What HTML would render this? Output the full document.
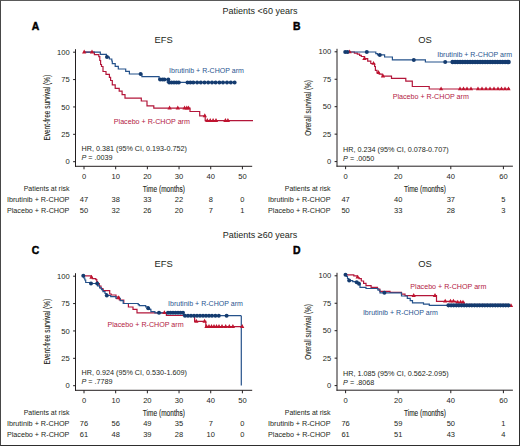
<!DOCTYPE html>
<html><head><meta charset="utf-8"><style>
html,body{margin:0;padding:0;background:#fff;}
svg{display:block;font-family:"Liberation Sans", sans-serif;}
.frame{position:absolute;left:0;top:0;width:520px;height:446px;box-sizing:border-box;border-style:solid;border-width:1px 1.5px 1.5px 1.3px;border-color:#5a5a5a #2e2e2e #2e2e2e #484848;pointer-events:none;}
</style></head><body>
<svg width="520" height="446" viewBox="0 0 520 446">
<rect width="520" height="446" fill="#fff"/>
<text x="260" y="14.4" text-anchor="middle" fill="#231f20" style="font-size:9px;" >Patients &lt;60 years</text>
<text x="260" y="238.3" text-anchor="middle" fill="#231f20" style="font-size:9px;" >Patients ≥60 years</text>
<text x="31.8" y="29.6" text-anchor="start" fill="#000" style="font-size:10.4px;font-weight:bold;" stroke="#000" stroke-width="0.45">A</text>
<text x="292.9" y="29.7" text-anchor="start" fill="#000" style="font-size:10.4px;font-weight:bold;" stroke="#000" stroke-width="0.45">B</text>
<text x="31.8" y="253.7" text-anchor="start" fill="#000" style="font-size:10.4px;font-weight:bold;" stroke="#000" stroke-width="0.45">C</text>
<text x="292.9" y="253.6" text-anchor="start" fill="#000" style="font-size:10.4px;font-weight:bold;" stroke="#000" stroke-width="0.45">D</text>
<line x1="75.5" y1="49.2" x2="75.5" y2="166.8" stroke="#231f20" stroke-width="1"/>
<line x1="75.0" y1="166.3" x2="252.2" y2="166.3" stroke="#231f20" stroke-width="1"/>
<line x1="73.1" y1="52.2" x2="75.5" y2="52.2" stroke="#231f20" stroke-width="1"/>
<text x="69.7" y="54.8" text-anchor="end" fill="#231f20" style="font-size:7.6px;" >100</text>
<line x1="73.1" y1="79.575" x2="75.5" y2="79.575" stroke="#231f20" stroke-width="1"/>
<text x="69.7" y="82.17" text-anchor="end" fill="#231f20" style="font-size:7.6px;" >75</text>
<line x1="73.1" y1="106.94999999999999" x2="75.5" y2="106.94999999999999" stroke="#231f20" stroke-width="1"/>
<text x="69.7" y="109.55" text-anchor="end" fill="#231f20" style="font-size:7.6px;" >50</text>
<line x1="73.1" y1="134.325" x2="75.5" y2="134.325" stroke="#231f20" stroke-width="1"/>
<text x="69.7" y="136.92" text-anchor="end" fill="#231f20" style="font-size:7.6px;" >25</text>
<line x1="73.1" y1="161.7" x2="75.5" y2="161.7" stroke="#231f20" stroke-width="1"/>
<text x="69.7" y="164.3" text-anchor="end" fill="#231f20" style="font-size:7.6px;" >0</text>
<line x1="84.0" y1="166.3" x2="84.0" y2="169.3" stroke="#231f20" stroke-width="1"/>
<text x="84.0" y="179.20000000000002" text-anchor="middle" fill="#231f20" style="font-size:7.6px;" >0</text>
<text x="84.0" y="201.8" text-anchor="middle" fill="#231f20" style="font-size:7.5px;" >47</text>
<text x="84.0" y="213.3" text-anchor="middle" fill="#231f20" style="font-size:7.5px;" >50</text>
<line x1="115.68" y1="166.3" x2="115.68" y2="169.3" stroke="#231f20" stroke-width="1"/>
<text x="115.68" y="179.20000000000002" text-anchor="middle" fill="#231f20" style="font-size:7.6px;" >10</text>
<text x="115.68" y="201.8" text-anchor="middle" fill="#231f20" style="font-size:7.5px;" >38</text>
<text x="115.68" y="213.3" text-anchor="middle" fill="#231f20" style="font-size:7.5px;" >32</text>
<line x1="147.36" y1="166.3" x2="147.36" y2="169.3" stroke="#231f20" stroke-width="1"/>
<text x="147.36" y="179.20000000000002" text-anchor="middle" fill="#231f20" style="font-size:7.6px;" >20</text>
<text x="147.36" y="201.8" text-anchor="middle" fill="#231f20" style="font-size:7.5px;" >33</text>
<text x="147.36" y="213.3" text-anchor="middle" fill="#231f20" style="font-size:7.5px;" >26</text>
<line x1="179.04000000000002" y1="166.3" x2="179.04000000000002" y2="169.3" stroke="#231f20" stroke-width="1"/>
<text x="179.04" y="179.20000000000002" text-anchor="middle" fill="#231f20" style="font-size:7.6px;" >30</text>
<text x="179.04" y="201.8" text-anchor="middle" fill="#231f20" style="font-size:7.5px;" >22</text>
<text x="179.04" y="213.3" text-anchor="middle" fill="#231f20" style="font-size:7.5px;" >20</text>
<line x1="210.72" y1="166.3" x2="210.72" y2="169.3" stroke="#231f20" stroke-width="1"/>
<text x="210.72" y="179.20000000000002" text-anchor="middle" fill="#231f20" style="font-size:7.6px;" >40</text>
<text x="210.72" y="201.8" text-anchor="middle" fill="#231f20" style="font-size:7.5px;" >8</text>
<text x="210.72" y="213.3" text-anchor="middle" fill="#231f20" style="font-size:7.5px;" >7</text>
<line x1="242.4" y1="166.3" x2="242.4" y2="169.3" stroke="#231f20" stroke-width="1"/>
<text x="242.4" y="179.20000000000002" text-anchor="middle" fill="#231f20" style="font-size:7.6px;" >50</text>
<text x="242.4" y="201.8" text-anchor="middle" fill="#231f20" style="font-size:7.5px;" >0</text>
<text x="242.4" y="213.3" text-anchor="middle" fill="#231f20" style="font-size:7.5px;" >1</text>
<text x="163.85" y="191.9" text-anchor="middle" fill="#231f20" style="font-size:8.5px;" textLength="42" lengthAdjust="spacingAndGlyphs" stroke="#231f20" stroke-width="0.12">Time (months)</text>
<text transform="translate(50.3,107.7) rotate(-90)" x="0" y="0" text-anchor="middle" fill="#231f20" style="font-size:8.8px" textLength="65.8" lengthAdjust="spacingAndGlyphs" stroke="#231f20" stroke-width="0.1">Event-free survival (%)</text>
<text x="163.7" y="43.4" text-anchor="middle" fill="#231f20" style="font-size:9.4px;" >EFS</text>
<text transform="translate(81.5 151.1) scale(0.95 1)" x="0" y="0" text-anchor="start" fill="#231f20" style="font-size:7.6px;" >HR, 0.381 (95% CI, 0.193-0.752)</text>
<text transform="translate(81.5 159.8) scale(0.95 1)" x="0" y="0" fill="#231f20" style="font-size:7.6px"><tspan style="font-style:italic">P</tspan> = .0039</text>
<text transform="translate(69.4 190.6) scale(0.93 1)" x="0" y="0" text-anchor="end" fill="#231f20" style="font-size:7.5px;" >Patients at risk</text>
<text transform="translate(69.4 201.7) scale(0.94 1)" x="0" y="0" text-anchor="end" fill="#231f20" style="font-size:7.7px;" >Ibrutinib + R-CHOP</text>
<text transform="translate(69.4 213.3) scale(0.935 1)" x="0" y="0" text-anchor="end" fill="#231f20" style="font-size:7.7px;" >Placebo + R-CHOP</text>
<path d="M84,52.2 H94.4 V54.6 H98.8 V56.7 H99.8 V60.5 H100.6 V64.5 H101.5 V66.5 H103 V71.5 H106 V74.4 H109.4 V77.3 H110.6 V80.5 H112.3 V84.8 H115.2 V88.3 H119.2 V91.1 H122.1 V94.6 H125 V98.1 H141.3 V101 H147 V105.8 H153.8 V108.2 H190 V111.5 H199.7 V115.9 H205.2 V120.6 H253" fill="none" stroke="#b3163a" stroke-width="1.2"/>
<path d="M84,52.2 H100.3 V54.3 H106.5 V57.0 H109.4 V59.0 H111.8 V61.0 H112.3 V63.7 H115.2 V66.3 H118.3 V69.0 H125.7 V71.3 H129.4 V74.0 H141.9 V76.7 H159.1 V79.3 H167.3 V82.4 H234.6" fill="none" stroke="#25528b" stroke-width="1.2"/>
<text transform="translate(169 73.1) scale(0.93 1)" x="0" y="0" text-anchor="start" fill="#2a5590" style="font-size:7.6px;" >Ibrutinib + R-CHOP arm</text>
<text transform="translate(113.8 123.5) scale(0.94 1)" x="0" y="0" text-anchor="start" fill="#b3203f" style="font-size:7.6px;" >Placebo + R-CHOP arm</text>
<line x1="337.0" y1="48.8" x2="337.0" y2="166.7" stroke="#231f20" stroke-width="1"/>
<line x1="336.5" y1="166.2" x2="512.9" y2="166.2" stroke="#231f20" stroke-width="1"/>
<line x1="334.6" y1="51.8" x2="337.0" y2="51.8" stroke="#231f20" stroke-width="1"/>
<text x="331.2" y="54.4" text-anchor="end" fill="#231f20" style="font-size:7.6px;" >100</text>
<line x1="334.6" y1="79.25" x2="337.0" y2="79.25" stroke="#231f20" stroke-width="1"/>
<text x="331.2" y="81.85" text-anchor="end" fill="#231f20" style="font-size:7.6px;" >75</text>
<line x1="334.6" y1="106.69999999999999" x2="337.0" y2="106.69999999999999" stroke="#231f20" stroke-width="1"/>
<text x="331.2" y="109.3" text-anchor="end" fill="#231f20" style="font-size:7.6px;" >50</text>
<line x1="334.6" y1="134.14999999999998" x2="337.0" y2="134.14999999999998" stroke="#231f20" stroke-width="1"/>
<text x="331.2" y="136.75" text-anchor="end" fill="#231f20" style="font-size:7.6px;" >25</text>
<line x1="334.6" y1="161.6" x2="337.0" y2="161.6" stroke="#231f20" stroke-width="1"/>
<text x="331.2" y="164.2" text-anchor="end" fill="#231f20" style="font-size:7.6px;" >0</text>
<line x1="345.6" y1="166.2" x2="345.6" y2="169.2" stroke="#231f20" stroke-width="1"/>
<text x="345.6" y="179.1" text-anchor="middle" fill="#231f20" style="font-size:7.6px;" >0</text>
<text x="345.6" y="201.8" text-anchor="middle" fill="#231f20" style="font-size:7.5px;" >47</text>
<text x="345.6" y="213.3" text-anchor="middle" fill="#231f20" style="font-size:7.5px;" >50</text>
<line x1="398.20000000000005" y1="166.2" x2="398.20000000000005" y2="169.2" stroke="#231f20" stroke-width="1"/>
<text x="398.2" y="179.1" text-anchor="middle" fill="#231f20" style="font-size:7.6px;" >20</text>
<text x="398.2" y="201.8" text-anchor="middle" fill="#231f20" style="font-size:7.5px;" >40</text>
<text x="398.2" y="213.3" text-anchor="middle" fill="#231f20" style="font-size:7.5px;" >33</text>
<line x1="450.8" y1="166.2" x2="450.8" y2="169.2" stroke="#231f20" stroke-width="1"/>
<text x="450.8" y="179.1" text-anchor="middle" fill="#231f20" style="font-size:7.6px;" >40</text>
<text x="450.8" y="201.8" text-anchor="middle" fill="#231f20" style="font-size:7.5px;" >37</text>
<text x="450.8" y="213.3" text-anchor="middle" fill="#231f20" style="font-size:7.5px;" >28</text>
<line x1="503.4" y1="166.2" x2="503.4" y2="169.2" stroke="#231f20" stroke-width="1"/>
<text x="503.4" y="179.1" text-anchor="middle" fill="#231f20" style="font-size:7.6px;" >60</text>
<text x="503.4" y="201.8" text-anchor="middle" fill="#231f20" style="font-size:7.5px;" >5</text>
<text x="503.4" y="213.3" text-anchor="middle" fill="#231f20" style="font-size:7.5px;" >3</text>
<text x="424.95" y="191.9" text-anchor="middle" fill="#231f20" style="font-size:8.5px;" textLength="42" lengthAdjust="spacingAndGlyphs" stroke="#231f20" stroke-width="0.12">Time (months)</text>
<text transform="translate(311.3,107.9) rotate(-90)" x="0" y="0" text-anchor="middle" fill="#231f20" style="font-size:8.8px" textLength="55.6" lengthAdjust="spacingAndGlyphs" stroke="#231f20" stroke-width="0.1">Overall survival (%)</text>
<text x="425" y="43.4" text-anchor="middle" fill="#231f20" style="font-size:9.4px;" >OS</text>
<text transform="translate(343.1 151.9) scale(0.95 1)" x="0" y="0" text-anchor="start" fill="#231f20" style="font-size:7.6px;" >HR, 0.234 (95% CI, 0.078-0.707)</text>
<text transform="translate(343.1 160.5) scale(0.95 1)" x="0" y="0" fill="#231f20" style="font-size:7.6px"><tspan style="font-style:italic">P</tspan> = .0050</text>
<text transform="translate(330.5 190.6) scale(0.93 1)" x="0" y="0" text-anchor="end" fill="#231f20" style="font-size:7.5px;" >Patients at risk</text>
<text transform="translate(330.5 201.7) scale(0.94 1)" x="0" y="0" text-anchor="end" fill="#231f20" style="font-size:7.7px;" >Ibrutinib + R-CHOP</text>
<text transform="translate(330.5 213.3) scale(0.935 1)" x="0" y="0" text-anchor="end" fill="#231f20" style="font-size:7.7px;" >Placebo + R-CHOP</text>
<path d="M345.4,52.0 H354.4 V53.1 H357.3 V54.2 H359.6 V55.4 H361.3 V56.5 H364.6 V58.6 H367.7 V61.2 H370.8 V63.5 H374.6 V66.5 H375.4 V70.4 H377 V72.5 H379.2 V74.2 H382.3 V76.2 H391.5 V78.4 H405.8 V81.2 H412.3 V86.5 H429.2 V89.0 H510" fill="none" stroke="#b3163a" stroke-width="1.2"/>
<path d="M345.4,52.0 H375.8 V53.7 H377.5 V54.9 H384.6 V57.0 H392.4 V59.9 H425.4 V62.0 H508.7" fill="none" stroke="#25528b" stroke-width="1.2"/>
<text transform="translate(437.2 56.8) scale(0.93 1)" x="0" y="0" text-anchor="start" fill="#2a5590" style="font-size:7.6px;" >Ibrutinib + R-CHOP arm</text>
<text transform="translate(392.7 99.4) scale(0.94 1)" x="0" y="0" text-anchor="start" fill="#b3203f" style="font-size:7.6px;" >Placebo + R-CHOP arm</text>
<line x1="75.5" y1="273.2" x2="75.5" y2="390.8" stroke="#231f20" stroke-width="1"/>
<line x1="75.0" y1="390.3" x2="252.2" y2="390.3" stroke="#231f20" stroke-width="1"/>
<line x1="73.1" y1="276.2" x2="75.5" y2="276.2" stroke="#231f20" stroke-width="1"/>
<text x="69.7" y="278.8" text-anchor="end" fill="#231f20" style="font-size:7.6px;" >100</text>
<line x1="73.1" y1="303.575" x2="75.5" y2="303.575" stroke="#231f20" stroke-width="1"/>
<text x="69.7" y="306.18" text-anchor="end" fill="#231f20" style="font-size:7.6px;" >75</text>
<line x1="73.1" y1="330.95" x2="75.5" y2="330.95" stroke="#231f20" stroke-width="1"/>
<text x="69.7" y="333.55" text-anchor="end" fill="#231f20" style="font-size:7.6px;" >50</text>
<line x1="73.1" y1="358.325" x2="75.5" y2="358.325" stroke="#231f20" stroke-width="1"/>
<text x="69.7" y="360.93" text-anchor="end" fill="#231f20" style="font-size:7.6px;" >25</text>
<line x1="73.1" y1="385.7" x2="75.5" y2="385.7" stroke="#231f20" stroke-width="1"/>
<text x="69.7" y="388.3" text-anchor="end" fill="#231f20" style="font-size:7.6px;" >0</text>
<line x1="84.0" y1="390.3" x2="84.0" y2="393.3" stroke="#231f20" stroke-width="1"/>
<text x="84.0" y="403.2" text-anchor="middle" fill="#231f20" style="font-size:7.6px;" >0</text>
<text x="84.0" y="425.8" text-anchor="middle" fill="#231f20" style="font-size:7.5px;" >76</text>
<text x="84.0" y="437.3" text-anchor="middle" fill="#231f20" style="font-size:7.5px;" >61</text>
<line x1="115.68" y1="390.3" x2="115.68" y2="393.3" stroke="#231f20" stroke-width="1"/>
<text x="115.68" y="403.2" text-anchor="middle" fill="#231f20" style="font-size:7.6px;" >10</text>
<text x="115.68" y="425.8" text-anchor="middle" fill="#231f20" style="font-size:7.5px;" >56</text>
<text x="115.68" y="437.3" text-anchor="middle" fill="#231f20" style="font-size:7.5px;" >48</text>
<line x1="147.36" y1="390.3" x2="147.36" y2="393.3" stroke="#231f20" stroke-width="1"/>
<text x="147.36" y="403.2" text-anchor="middle" fill="#231f20" style="font-size:7.6px;" >20</text>
<text x="147.36" y="425.8" text-anchor="middle" fill="#231f20" style="font-size:7.5px;" >49</text>
<text x="147.36" y="437.3" text-anchor="middle" fill="#231f20" style="font-size:7.5px;" >39</text>
<line x1="179.04000000000002" y1="390.3" x2="179.04000000000002" y2="393.3" stroke="#231f20" stroke-width="1"/>
<text x="179.04" y="403.2" text-anchor="middle" fill="#231f20" style="font-size:7.6px;" >30</text>
<text x="179.04" y="425.8" text-anchor="middle" fill="#231f20" style="font-size:7.5px;" >35</text>
<text x="179.04" y="437.3" text-anchor="middle" fill="#231f20" style="font-size:7.5px;" >28</text>
<line x1="210.72" y1="390.3" x2="210.72" y2="393.3" stroke="#231f20" stroke-width="1"/>
<text x="210.72" y="403.2" text-anchor="middle" fill="#231f20" style="font-size:7.6px;" >40</text>
<text x="210.72" y="425.8" text-anchor="middle" fill="#231f20" style="font-size:7.5px;" >7</text>
<text x="210.72" y="437.3" text-anchor="middle" fill="#231f20" style="font-size:7.5px;" >10</text>
<line x1="242.4" y1="390.3" x2="242.4" y2="393.3" stroke="#231f20" stroke-width="1"/>
<text x="242.4" y="403.2" text-anchor="middle" fill="#231f20" style="font-size:7.6px;" >50</text>
<text x="242.4" y="425.8" text-anchor="middle" fill="#231f20" style="font-size:7.5px;" >0</text>
<text x="242.4" y="437.3" text-anchor="middle" fill="#231f20" style="font-size:7.5px;" >0</text>
<text x="163.85" y="415.9" text-anchor="middle" fill="#231f20" style="font-size:8.5px;" textLength="42" lengthAdjust="spacingAndGlyphs" stroke="#231f20" stroke-width="0.12">Time (months)</text>
<text transform="translate(50.3,331.7) rotate(-90)" x="0" y="0" text-anchor="middle" fill="#231f20" style="font-size:8.8px" textLength="65.8" lengthAdjust="spacingAndGlyphs" stroke="#231f20" stroke-width="0.1">Event-free survival (%)</text>
<text x="163.7" y="267.4" text-anchor="middle" fill="#231f20" style="font-size:9.4px;" >EFS</text>
<text transform="translate(81.5 375.1) scale(0.95 1)" x="0" y="0" text-anchor="start" fill="#231f20" style="font-size:7.6px;" >HR, 0.924 (95% CI, 0.530-1.609)</text>
<text transform="translate(81.5 383.79999999999995) scale(0.95 1)" x="0" y="0" fill="#231f20" style="font-size:7.6px"><tspan style="font-style:italic">P</tspan> = .7789</text>
<text transform="translate(69.4 414.6) scale(0.93 1)" x="0" y="0" text-anchor="end" fill="#231f20" style="font-size:7.5px;" >Patients at risk</text>
<text transform="translate(69.4 425.7) scale(0.94 1)" x="0" y="0" text-anchor="end" fill="#231f20" style="font-size:7.7px;" >Ibrutinib + R-CHOP</text>
<text transform="translate(69.4 437.3) scale(0.935 1)" x="0" y="0" text-anchor="end" fill="#231f20" style="font-size:7.7px;" >Placebo + R-CHOP</text>
<path d="M83.3,275.8 H91.2 V277.4 H92.4 V278.7 H95.8 V279.6 H96.8 V281.5 H97.5 V283.5 H99.3 V286 H101 V288.5 H103 V290.7 H109.7 V294 H111.2 V295 H116 V297 H119.3 V300 H123.8 V303.5 H128.4 V307 H133 V309.3 H137 V312.8 H166.4 V315.5 H194.6 V321.4 H205.8 V326.6 H242.2" fill="none" stroke="#b3163a" stroke-width="1.2"/>
<path d="M83.3,275.8 H83.8 V278 H84.8 V280 H85.7 V282.5 H91.5 V283.5 H97.5 V285.9 H99.6 V287.8 H101.5 V289.7 H103 V291.6 H105 V293.5 H106.8 V295.5 H110.7 V296.6 H116 V298.4 H120.3 V300.6 H123.2 V303.5 H138.2 V304.7 H139.3 V305.6 H145.7 V306.8 H148.5 V309.3 H150.9 V311.6 H154.9 V312.8 H183.4 V315.7 H241.3" fill="none" stroke="#25528b" stroke-width="1.2"/>
<line x1="241.3" y1="315.7" x2="241.3" y2="385.5" stroke="#25528b" stroke-width="1.2"/>
<text transform="translate(168 306.0) scale(0.93 1)" x="0" y="0" text-anchor="start" fill="#2a5590" style="font-size:7.6px;" >Ibrutinib + R-CHOP arm</text>
<text transform="translate(107.5 326.6) scale(0.94 1)" x="0" y="0" text-anchor="start" fill="#b3203f" style="font-size:7.6px;" >Placebo + R-CHOP arm</text>
<line x1="337.0" y1="272.8" x2="337.0" y2="390.7" stroke="#231f20" stroke-width="1"/>
<line x1="336.5" y1="390.2" x2="512.9" y2="390.2" stroke="#231f20" stroke-width="1"/>
<line x1="334.6" y1="275.8" x2="337.0" y2="275.8" stroke="#231f20" stroke-width="1"/>
<text x="331.2" y="278.4" text-anchor="end" fill="#231f20" style="font-size:7.6px;" >100</text>
<line x1="334.6" y1="303.25" x2="337.0" y2="303.25" stroke="#231f20" stroke-width="1"/>
<text x="331.2" y="305.85" text-anchor="end" fill="#231f20" style="font-size:7.6px;" >75</text>
<line x1="334.6" y1="330.7" x2="337.0" y2="330.7" stroke="#231f20" stroke-width="1"/>
<text x="331.2" y="333.3" text-anchor="end" fill="#231f20" style="font-size:7.6px;" >50</text>
<line x1="334.6" y1="358.15" x2="337.0" y2="358.15" stroke="#231f20" stroke-width="1"/>
<text x="331.2" y="360.75" text-anchor="end" fill="#231f20" style="font-size:7.6px;" >25</text>
<line x1="334.6" y1="385.6" x2="337.0" y2="385.6" stroke="#231f20" stroke-width="1"/>
<text x="331.2" y="388.2" text-anchor="end" fill="#231f20" style="font-size:7.6px;" >0</text>
<line x1="345.6" y1="390.2" x2="345.6" y2="393.2" stroke="#231f20" stroke-width="1"/>
<text x="345.6" y="403.09999999999997" text-anchor="middle" fill="#231f20" style="font-size:7.6px;" >0</text>
<text x="345.6" y="425.8" text-anchor="middle" fill="#231f20" style="font-size:7.5px;" >76</text>
<text x="345.6" y="437.3" text-anchor="middle" fill="#231f20" style="font-size:7.5px;" >61</text>
<line x1="398.20000000000005" y1="390.2" x2="398.20000000000005" y2="393.2" stroke="#231f20" stroke-width="1"/>
<text x="398.2" y="403.09999999999997" text-anchor="middle" fill="#231f20" style="font-size:7.6px;" >20</text>
<text x="398.2" y="425.8" text-anchor="middle" fill="#231f20" style="font-size:7.5px;" >59</text>
<text x="398.2" y="437.3" text-anchor="middle" fill="#231f20" style="font-size:7.5px;" >51</text>
<line x1="450.8" y1="390.2" x2="450.8" y2="393.2" stroke="#231f20" stroke-width="1"/>
<text x="450.8" y="403.09999999999997" text-anchor="middle" fill="#231f20" style="font-size:7.6px;" >40</text>
<text x="450.8" y="425.8" text-anchor="middle" fill="#231f20" style="font-size:7.5px;" >50</text>
<text x="450.8" y="437.3" text-anchor="middle" fill="#231f20" style="font-size:7.5px;" >43</text>
<line x1="503.4" y1="390.2" x2="503.4" y2="393.2" stroke="#231f20" stroke-width="1"/>
<text x="503.4" y="403.09999999999997" text-anchor="middle" fill="#231f20" style="font-size:7.6px;" >60</text>
<text x="503.4" y="425.8" text-anchor="middle" fill="#231f20" style="font-size:7.5px;" >1</text>
<text x="503.4" y="437.3" text-anchor="middle" fill="#231f20" style="font-size:7.5px;" >4</text>
<text x="424.95" y="415.9" text-anchor="middle" fill="#231f20" style="font-size:8.5px;" textLength="42" lengthAdjust="spacingAndGlyphs" stroke="#231f20" stroke-width="0.12">Time (months)</text>
<text transform="translate(311.3,331.9) rotate(-90)" x="0" y="0" text-anchor="middle" fill="#231f20" style="font-size:8.8px" textLength="55.6" lengthAdjust="spacingAndGlyphs" stroke="#231f20" stroke-width="0.1">Overall survival (%)</text>
<text x="425" y="267.4" text-anchor="middle" fill="#231f20" style="font-size:9.4px;" >OS</text>
<text transform="translate(343.1 375.90000000000003) scale(0.95 1)" x="0" y="0" text-anchor="start" fill="#231f20" style="font-size:7.6px;" >HR, 1.085 (95% CI, 0.562-2.095)</text>
<text transform="translate(343.1 384.5) scale(0.95 1)" x="0" y="0" fill="#231f20" style="font-size:7.6px"><tspan style="font-style:italic">P</tspan> = .8068</text>
<text transform="translate(330.5 414.6) scale(0.93 1)" x="0" y="0" text-anchor="end" fill="#231f20" style="font-size:7.5px;" >Patients at risk</text>
<text transform="translate(330.5 425.7) scale(0.94 1)" x="0" y="0" text-anchor="end" fill="#231f20" style="font-size:7.7px;" >Ibrutinib + R-CHOP</text>
<text transform="translate(330.5 437.3) scale(0.935 1)" x="0" y="0" text-anchor="end" fill="#231f20" style="font-size:7.7px;" >Placebo + R-CHOP</text>
<path d="M345.5,274.8 H353.8 V275.8 H357.3 V277.5 H359 V278.7 H361.3 V281 H363.6 V283.3 H366 V285.6 H371.1 V287.3 H377.5 V289 H379.8 V291.3 H390 V292.3 H401.5 V294.2 H405 V295.6 H436.5 V301.3 H456 V302.3 H464 V305.6 H511.5" fill="none" stroke="#b3163a" stroke-width="1.2"/>
<path d="M345.5,274.8 H346.5 V276.5 H347.5 V278.5 H348.5 V280.6 H352.7 V281.6 H356.7 V282.3 H359 V283.8 H360 V287.3 H366 V288.5 H378 V290.2 H380 V292.8 H401.5 V296 H407.3 V298.3 H410.2 V300.6 H412.5 V302.9 H423.5 V304.2 H429.3 V305.4 H508.7" fill="none" stroke="#25528b" stroke-width="1.2"/>
<text transform="translate(410.3 289.2) scale(0.94 1)" x="0" y="0" text-anchor="start" fill="#b3203f" style="font-size:7.6px;" >Placebo + R-CHOP arm</text>
<text transform="translate(362.9 315.0) scale(0.93 1)" x="0" y="0" text-anchor="start" fill="#2a5590" style="font-size:7.6px;" >Ibrutinib + R-CHOP arm</text>
<path d="M82.05,53.49 L86.35,53.49 L84.20,49.62 Z" fill="#c0142f"/>
<path d="M89.85,53.49 L94.15,53.49 L92.00,49.62 Z" fill="#c0142f"/>
<path d="M167.45,109.49 L171.75,109.49 L169.60,105.62 Z" fill="#c0142f"/>
<path d="M175.65,109.49 L179.95,109.49 L177.80,105.62 Z" fill="#c0142f"/>
<path d="M182.45,109.49 L186.75,109.49 L184.60,105.62 Z" fill="#c0142f"/>
<path d="M184.65,109.49 L188.95,109.49 L186.80,105.62 Z" fill="#c0142f"/>
<path d="M186.35,109.49 L190.65,109.49 L188.50,105.62 Z" fill="#c0142f"/>
<path d="M202.65,117.19 L206.95,117.19 L204.80,113.32 Z" fill="#c0142f"/>
<path d="M205.15,121.89 L209.45,121.89 L207.30,118.02 Z" fill="#c0142f"/>
<path d="M208.05,121.89 L212.35,121.89 L210.20,118.02 Z" fill="#c0142f"/>
<path d="M210.95,121.89 L215.25,121.89 L213.10,118.02 Z" fill="#c0142f"/>
<path d="M213.85,121.89 L218.15,121.89 L216.00,118.02 Z" fill="#c0142f"/>
<path d="M223.25,121.89 L227.55,121.89 L225.40,118.02 Z" fill="#c0142f"/>
<path d="M225.75,121.89 L230.05,121.89 L227.90,118.02 Z" fill="#c0142f"/>
<path d="M347.45,53.29 L351.75,53.29 L349.60,49.42 Z" fill="#c0142f"/>
<path d="M362.25,59.89 L366.55,59.89 L364.40,56.02 Z" fill="#c0142f"/>
<path d="M371.35,64.79 L375.65,64.79 L373.50,60.92 Z" fill="#c0142f"/>
<path d="M376.35,73.89 L380.65,73.89 L378.50,70.02 Z" fill="#c0142f"/>
<path d="M380.85,77.49 L385.15,77.49 L383.00,73.62 Z" fill="#c0142f"/>
<path d="M438.95,90.29 L443.25,90.29 L441.10,86.42 Z" fill="#c0142f"/>
<path d="M457.85,90.29 L462.15,90.29 L460.00,86.42 Z" fill="#c0142f"/>
<path d="M461.35,90.29 L465.65,90.29 L463.50,86.42 Z" fill="#c0142f"/>
<path d="M464.85,90.29 L469.15,90.29 L467.00,86.42 Z" fill="#c0142f"/>
<path d="M468.85,90.29 L473.15,90.29 L471.00,86.42 Z" fill="#c0142f"/>
<path d="M475.85,90.29 L480.15,90.29 L478.00,86.42 Z" fill="#c0142f"/>
<path d="M479.85,90.29 L484.15,90.29 L482.00,86.42 Z" fill="#c0142f"/>
<path d="M483.85,90.29 L488.15,90.29 L486.00,86.42 Z" fill="#c0142f"/>
<path d="M487.85,90.29 L492.15,90.29 L490.00,86.42 Z" fill="#c0142f"/>
<path d="M491.85,90.29 L496.15,90.29 L494.00,86.42 Z" fill="#c0142f"/>
<path d="M495.85,90.29 L500.15,90.29 L498.00,86.42 Z" fill="#c0142f"/>
<path d="M499.35,90.29 L503.65,90.29 L501.50,86.42 Z" fill="#c0142f"/>
<path d="M502.85,90.29 L507.15,90.29 L505.00,86.42 Z" fill="#c0142f"/>
<path d="M506.35,90.29 L510.65,90.29 L508.50,86.42 Z" fill="#c0142f"/>
<path d="M89.35,278.69 L93.65,278.69 L91.50,274.82 Z" fill="#c0142f"/>
<path d="M116.25,299.19 L120.55,299.19 L118.40,295.32 Z" fill="#c0142f"/>
<path d="M162.25,314.09 L166.55,314.09 L164.40,310.22 Z" fill="#c0142f"/>
<path d="M194.15,322.69 L198.45,322.69 L196.30,318.82 Z" fill="#c0142f"/>
<path d="M202.45,322.69 L206.75,322.69 L204.60,318.82 Z" fill="#c0142f"/>
<path d="M204.35,327.89 L208.65,327.89 L206.50,324.02 Z" fill="#c0142f"/>
<path d="M206.85,327.89 L211.15,327.89 L209.00,324.02 Z" fill="#c0142f"/>
<path d="M209.35,327.89 L213.65,327.89 L211.50,324.02 Z" fill="#c0142f"/>
<path d="M211.85,327.89 L216.15,327.89 L214.00,324.02 Z" fill="#c0142f"/>
<path d="M214.35,327.89 L218.65,327.89 L216.50,324.02 Z" fill="#c0142f"/>
<path d="M216.85,327.89 L221.15,327.89 L219.00,324.02 Z" fill="#c0142f"/>
<path d="M219.85,327.89 L224.15,327.89 L222.00,324.02 Z" fill="#c0142f"/>
<path d="M223.55,327.89 L227.85,327.89 L225.70,324.02 Z" fill="#c0142f"/>
<path d="M227.15,327.89 L231.45,327.89 L229.30,324.02 Z" fill="#c0142f"/>
<path d="M230.75,327.89 L235.05,327.89 L232.90,324.02 Z" fill="#c0142f"/>
<path d="M240.05,327.89 L244.35,327.89 L242.20,324.02 Z" fill="#c0142f"/>
<path d="M355.55,278.59 L359.85,278.59 L357.70,274.72 Z" fill="#c0142f"/>
<path d="M411.55,296.89 L415.85,296.89 L413.70,293.02 Z" fill="#c0142f"/>
<path d="M432.85,296.89 L437.15,296.89 L435.00,293.02 Z" fill="#c0142f"/>
<path d="M443.05,302.59 L447.35,302.59 L445.20,298.72 Z" fill="#c0142f"/>
<path d="M448.35,302.59 L452.65,302.59 L450.50,298.72 Z" fill="#c0142f"/>
<path d="M451.25,302.59 L455.55,302.59 L453.40,298.72 Z" fill="#c0142f"/>
<path d="M455.55,303.59 L459.85,303.59 L457.70,299.72 Z" fill="#c0142f"/>
<path d="M458.45,303.59 L462.75,303.59 L460.60,299.72 Z" fill="#c0142f"/>
<path d="M460.85,303.59 L465.15,303.59 L463.00,299.72 Z" fill="#c0142f"/>
<path d="M464.85,307.09 L469.15,307.09 L467.00,303.22 Z" fill="#c0142f"/>
<path d="M468.85,307.09 L473.15,307.09 L471.00,303.22 Z" fill="#c0142f"/>
<path d="M472.85,307.09 L477.15,307.09 L475.00,303.22 Z" fill="#c0142f"/>
<path d="M476.85,307.09 L481.15,307.09 L479.00,303.22 Z" fill="#c0142f"/>
<path d="M480.85,307.09 L485.15,307.09 L483.00,303.22 Z" fill="#c0142f"/>
<path d="M484.85,307.09 L489.15,307.09 L487.00,303.22 Z" fill="#c0142f"/>
<path d="M488.85,307.09 L493.15,307.09 L491.00,303.22 Z" fill="#c0142f"/>
<path d="M492.85,307.09 L497.15,307.09 L495.00,303.22 Z" fill="#c0142f"/>
<path d="M496.85,307.09 L501.15,307.09 L499.00,303.22 Z" fill="#c0142f"/>
<path d="M500.85,307.09 L505.15,307.09 L503.00,303.22 Z" fill="#c0142f"/>
<path d="M504.85,307.09 L509.15,307.09 L507.00,303.22 Z" fill="#c0142f"/>
<path d="M508.85,307.09 L513.15,307.09 L511.00,303.22 Z" fill="#c0142f"/>
<circle cx="107" cy="57.0" r="2.0" fill="#143b6f"/>
<circle cx="140.6" cy="74.0" r="2.0" fill="#143b6f"/>
<circle cx="160.1" cy="79.4" r="2.0" fill="#143b6f"/>
<circle cx="162.5" cy="79.4" r="2.0" fill="#143b6f"/>
<circle cx="164.4" cy="79.4" r="2.0" fill="#143b6f"/>
<circle cx="168.3" cy="79.4" r="2.0" fill="#143b6f"/>
<circle cx="169.2" cy="82.4" r="2.0" fill="#143b6f"/>
<circle cx="171.5" cy="82.4" r="2.0" fill="#143b6f"/>
<circle cx="174" cy="82.4" r="2.0" fill="#143b6f"/>
<circle cx="176.5" cy="82.4" r="2.0" fill="#143b6f"/>
<circle cx="178.8" cy="82.4" r="2.0" fill="#143b6f"/>
<circle cx="187.5" cy="82.4" r="2.0" fill="#143b6f"/>
<circle cx="190.4" cy="82.4" r="2.0" fill="#143b6f"/>
<circle cx="193.3" cy="82.4" r="2.0" fill="#143b6f"/>
<circle cx="197.1" cy="82.4" r="2.0" fill="#143b6f"/>
<circle cx="200.8" cy="82.4" r="2.0" fill="#143b6f"/>
<circle cx="204.5" cy="82.4" r="2.0" fill="#143b6f"/>
<circle cx="208.2" cy="82.4" r="2.0" fill="#143b6f"/>
<circle cx="212" cy="82.4" r="2.0" fill="#143b6f"/>
<circle cx="215.6" cy="82.4" r="2.0" fill="#143b6f"/>
<circle cx="219.4" cy="82.4" r="2.0" fill="#143b6f"/>
<circle cx="223" cy="82.4" r="2.0" fill="#143b6f"/>
<circle cx="227" cy="82.4" r="2.0" fill="#143b6f"/>
<circle cx="230.8" cy="82.4" r="2.0" fill="#143b6f"/>
<circle cx="234.6" cy="82.4" r="2.0" fill="#143b6f"/>
<circle cx="345.2" cy="52.0" r="2.0" fill="#143b6f"/>
<circle cx="347.5" cy="52.0" r="2.0" fill="#143b6f"/>
<circle cx="366.8" cy="52.0" r="2.0" fill="#143b6f"/>
<circle cx="379.8" cy="54.9" r="2.0" fill="#143b6f"/>
<circle cx="413.8" cy="59.9" r="2.0" fill="#143b6f"/>
<circle cx="445.2" cy="62.0" r="2.0" fill="#143b6f"/>
<circle cx="452.6" cy="62.0" r="2.2" fill="#143b6f"/>
<circle cx="455.1" cy="62.0" r="2.2" fill="#143b6f"/>
<circle cx="457.6" cy="62.0" r="2.2" fill="#143b6f"/>
<circle cx="460.1" cy="62.0" r="2.2" fill="#143b6f"/>
<circle cx="462.6" cy="62.0" r="2.2" fill="#143b6f"/>
<circle cx="465.1" cy="62.0" r="2.2" fill="#143b6f"/>
<circle cx="467.6" cy="62.0" r="2.2" fill="#143b6f"/>
<circle cx="470.1" cy="62.0" r="2.2" fill="#143b6f"/>
<circle cx="472.6" cy="62.0" r="2.2" fill="#143b6f"/>
<circle cx="475.1" cy="62.0" r="2.2" fill="#143b6f"/>
<circle cx="477.6" cy="62.0" r="2.2" fill="#143b6f"/>
<circle cx="480.1" cy="62.0" r="2.2" fill="#143b6f"/>
<circle cx="482.6" cy="62.0" r="2.2" fill="#143b6f"/>
<circle cx="485.1" cy="62.0" r="2.2" fill="#143b6f"/>
<circle cx="487.6" cy="62.0" r="2.2" fill="#143b6f"/>
<circle cx="490.1" cy="62.0" r="2.2" fill="#143b6f"/>
<circle cx="492.6" cy="62.0" r="2.2" fill="#143b6f"/>
<circle cx="495.1" cy="62.0" r="2.2" fill="#143b6f"/>
<circle cx="497.6" cy="62.0" r="2.2" fill="#143b6f"/>
<circle cx="500.1" cy="62.0" r="2.2" fill="#143b6f"/>
<circle cx="502.6" cy="62.0" r="2.2" fill="#143b6f"/>
<circle cx="505.1" cy="62.0" r="2.2" fill="#143b6f"/>
<circle cx="507.6" cy="62.0" r="2.2" fill="#143b6f"/>
<circle cx="508.6" cy="62.0" r="2.2" fill="#143b6f"/>
<circle cx="83.3" cy="275.8" r="2.0" fill="#143b6f"/>
<circle cx="91" cy="283.5" r="2.0" fill="#143b6f"/>
<circle cx="97.2" cy="283.5" r="2.0" fill="#143b6f"/>
<circle cx="106.8" cy="295.5" r="2.0" fill="#143b6f"/>
<circle cx="148.2" cy="308.2" r="2.0" fill="#143b6f"/>
<circle cx="159" cy="312.8" r="2.0" fill="#143b6f"/>
<circle cx="168" cy="312.8" r="2.0" fill="#143b6f"/>
<circle cx="170.5" cy="312.8" r="2.0" fill="#143b6f"/>
<circle cx="173" cy="312.8" r="2.0" fill="#143b6f"/>
<circle cx="175.5" cy="312.8" r="2.0" fill="#143b6f"/>
<circle cx="178" cy="312.8" r="2.0" fill="#143b6f"/>
<circle cx="180.5" cy="312.8" r="2.0" fill="#143b6f"/>
<circle cx="183" cy="312.8" r="2.0" fill="#143b6f"/>
<circle cx="185" cy="315.7" r="2.0" fill="#143b6f"/>
<circle cx="188" cy="315.7" r="2.0" fill="#143b6f"/>
<circle cx="191" cy="315.7" r="2.0" fill="#143b6f"/>
<circle cx="194" cy="315.7" r="2.0" fill="#143b6f"/>
<circle cx="197" cy="315.7" r="2.0" fill="#143b6f"/>
<circle cx="200" cy="315.7" r="2.0" fill="#143b6f"/>
<circle cx="203" cy="315.7" r="2.0" fill="#143b6f"/>
<circle cx="206" cy="315.7" r="2.0" fill="#143b6f"/>
<circle cx="209" cy="315.7" r="2.0" fill="#143b6f"/>
<circle cx="212" cy="315.7" r="2.0" fill="#143b6f"/>
<circle cx="215.4" cy="315.7" r="2.0" fill="#143b6f"/>
<circle cx="218.8" cy="315.7" r="2.0" fill="#143b6f"/>
<circle cx="226.6" cy="315.7" r="2.0" fill="#143b6f"/>
<circle cx="345.5" cy="274.8" r="2.0" fill="#143b6f"/>
<circle cx="349.2" cy="280.6" r="2.0" fill="#143b6f"/>
<circle cx="356.7" cy="282.3" r="2.0" fill="#143b6f"/>
<circle cx="359" cy="283.8" r="2.0" fill="#143b6f"/>
<circle cx="384.4" cy="292.8" r="2.0" fill="#143b6f"/>
<circle cx="448.5" cy="305.3" r="2.15" fill="#143b6f"/>
<circle cx="451.1" cy="305.3" r="2.15" fill="#143b6f"/>
<circle cx="453.7" cy="305.3" r="2.15" fill="#143b6f"/>
<circle cx="456.3" cy="305.3" r="2.15" fill="#143b6f"/>
<circle cx="458.9" cy="305.3" r="2.15" fill="#143b6f"/>
<circle cx="461.5" cy="305.3" r="2.15" fill="#143b6f"/>
<circle cx="464.1" cy="305.3" r="2.15" fill="#143b6f"/>
<circle cx="466.7" cy="305.3" r="2.15" fill="#143b6f"/>
<circle cx="469.3" cy="305.3" r="2.15" fill="#143b6f"/>
<circle cx="471.9" cy="305.3" r="2.15" fill="#143b6f"/>
<circle cx="474.5" cy="305.3" r="2.15" fill="#143b6f"/>
<circle cx="477.1" cy="305.3" r="2.15" fill="#143b6f"/>
<circle cx="479.7" cy="305.3" r="2.15" fill="#143b6f"/>
<circle cx="482.3" cy="305.3" r="2.15" fill="#143b6f"/>
<circle cx="484.9" cy="305.3" r="2.15" fill="#143b6f"/>
<circle cx="487.5" cy="305.3" r="2.15" fill="#143b6f"/>
<circle cx="490.1" cy="305.3" r="2.15" fill="#143b6f"/>
<circle cx="492.7" cy="305.3" r="2.15" fill="#143b6f"/>
<circle cx="495.3" cy="305.3" r="2.15" fill="#143b6f"/>
<circle cx="497.9" cy="305.3" r="2.15" fill="#143b6f"/>
<circle cx="500.5" cy="305.3" r="2.15" fill="#143b6f"/>
<circle cx="503.1" cy="305.3" r="2.15" fill="#143b6f"/>
<circle cx="505.7" cy="305.3" r="2.15" fill="#143b6f"/>
<circle cx="508.3" cy="305.3" r="2.15" fill="#143b6f"/>
</svg>
<div class="frame"></div>
</body></html>
